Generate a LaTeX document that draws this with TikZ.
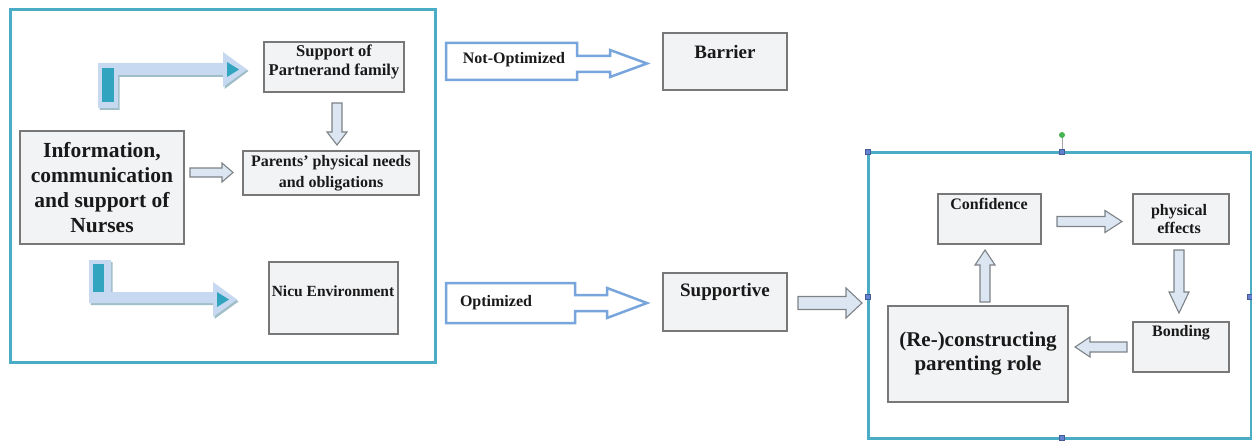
\documentclass[tikz,border=0pt]{standalone}
\usepackage{fontspec}
\setmainfont{Liberation Serif}
\definecolor{frameteal}{RGB}{75,172,198}
\definecolor{boxfill}{RGB}{242,243,245}
\definecolor{boxgray}{RGB}{120,120,120}
\definecolor{txtcol}{RGB}{25,25,25}
\definecolor{arrfill}{RGB}{220,230,242}
\definecolor{arrgray}{RGB}{125,130,135}
\definecolor{outblue}{RGB}{120,165,220}
\definecolor{bentfill}{RGB}{198,217,240}
\definecolor{bentshadow}{RGB}{160,190,200}
\definecolor{bentdark}{RGB}{49,165,192}
\definecolor{handleblue}{RGB}{100,130,210}
\definecolor{handlegreen}{RGB}{70,180,80}
\newcommand\fatarr[7]{% x, y, angle, length, shaft half, head half, head length
  \draw[fatarrow, shift={(#1,#2)}, rotate=#3] (0,-#5) -- ({#4-#7},-#5) -- ({#4-#7},-#6) -- (#4,0) -- ({#4-#7},#6) -- ({#4-#7},#5) -- (0,#5) -- cycle;}
\begin{document}
\begin{tikzpicture}[x=1pt,y=-1pt,
  box/.style={draw=boxgray, line width=1.3pt, fill=boxfill, inner sep=0pt},
  txt/.style={text=txtcol, align=center, inner sep=0pt},
  bframe/.style={draw=frameteal, line width=3pt},
  fatarrow/.style={draw=arrgray, fill=arrfill, line width=1.1pt, line join=miter},
  outl/.style={draw=outblue, fill=white, line width=2.5pt, line join=miter},
  handle/.style={draw=handleblue!70!black, fill=handleblue, minimum size=5pt, inner sep=0pt, line width=0.6pt},
]
\useasboundingbox (0,0) rectangle (1252,441);
% frames
\draw[bframe] (10,10) rectangle (435,362);
\draw[bframe] (868,152) rectangle (1251,438);
% boxes
\node[box, minimum width=140pt, minimum height=50pt] (support) at (334,67) {};
\node[box, minimum width=176pt, minimum height=44pt, txt, font={\fontsize{16}{21}\selectfont\bfseries}] (parents) at (331,173) {Parents’ physical needs\\and obligations};
\node[box, minimum width=164pt, minimum height=113pt, txt, font={\fontsize{21.5}{25}\selectfont\bfseries}] (info) at (102,187.5) {Information,\\communication\\and support of\\Nurses};
\node[box, minimum width=129pt, minimum height=72pt] (nicu) at (333.5,298) {};
\node[box, minimum width=124pt, minimum height=57pt] (barrier) at (725,61.5) {};
\node[box, minimum width=124pt, minimum height=58pt] (supportive) at (725,302) {};
\node[box, minimum width=103pt, minimum height=50pt] (confidence) at (989.5,219) {};
\node[box, minimum width=96pt, minimum height=50pt] (physical) at (1181,219) {};
\node[box, minimum width=96pt, minimum height=50pt] (bonding) at (1181,347) {};
\node[box, minimum width=180pt, minimum height=96pt, txt, font={\fontsize{21}{24}\selectfont\bfseries}] (recon) at (978,354) {(Re-)constructing\\parenting role};
% box texts (top aligned ones)
\node[txt, font={\fontsize{16.5}{18.5}\selectfont\bfseries}] (supporttxt) at (334,62) {Support of\\Partnerand family};
\node[txt, font={\fontsize{15.5}{18}\selectfont\bfseries}] (nicutxt) at (333,291) {Nicu Environment};
\node[txt, font={\fontsize{19}{22}\selectfont\bfseries}] (barriertxt) at (725,52) {Barrier};
\node[txt, font={\fontsize{19}{22}\selectfont\bfseries}] (supportivetxt) at (725,292) {Supportive};
\node[txt, font={\fontsize{16}{18}\selectfont\bfseries}] (conftxt) at (989,204) {Confidence};
\node[txt, font={\fontsize{16}{18}\selectfont\bfseries}] (phystxt) at (1179,219) {physical\\effects};
\node[txt, font={\fontsize{16}{18}\selectfont\bfseries}] (bondtxt) at (1181,333) {Bonding};
% outline arrows
\draw[outl] (446,43) -- (577,43) -- (577,56) -- (610,56) -- (610,50) -- (647,63.5) -- (610,77) -- (610,72) -- (577,72) -- (577,80) -- (446,80) -- cycle;
\node[txt, font={\fontsize{16}{18}\selectfont\bfseries}] (notopt) at (514,60) {Not-Optimized};
\draw[outl] (446,283) -- (575,283) -- (575,295) -- (607,295) -- (607,288) -- (647,303) -- (607,318) -- (607,311) -- (575,311) -- (575,323) -- (446,323) -- cycle;
\node[txt, font={\fontsize{16}{18}\selectfont\bfseries}] (opt) at (496,303) {Optimized};
% bent arrows
\fill[bentshadow] (99.5,65) -- (224.5,65) -- (224.5,54) -- (248.5,71) -- (224.5,89) -- (224.5,77) -- (119.5,77) -- (119.5,110) -- (99.5,110) -- cycle;
\fill[bentfill] (98,63) -- (223,63) -- (223,52) -- (247,69.5) -- (223,87) -- (223,75) -- (118,75) -- (118,108) -- (98,108) -- cycle;
\fill[bentdark] (102,68) rectangle (114,102);
\fill[bentdark] (227,62) -- (239,69.5) -- (227,77) -- cycle;
\fill[bentshadow] (90.5,262) -- (112.5,262) -- (112.5,294) -- (214.5,294) -- (214.5,284) -- (238.5,301.5) -- (214.5,319) -- (214.5,305) -- (90.5,305) -- cycle;
\fill[bentfill] (89,260) -- (111,260) -- (111,292) -- (213,292) -- (213,282) -- (237,299.5) -- (213,317) -- (213,303) -- (89,303) -- cycle;
\fill[bentdark] (93,264) rectangle (104,292);
\fill[bentdark] (217,292) -- (229,299.5) -- (217,307) -- cycle;
% filled block arrows
\fatarr{337}{103}{-90}{42}{5}{10}{13}
\fatarr{190}{172.5}{0}{43}{4.5}{9.5}{11}
\fatarr{798}{303}{0}{64}{6.5}{15}{16}
\fatarr{1057}{221.5}{0}{65}{5}{11}{17}
\fatarr{1179}{250}{-90}{63}{5}{10}{21}
\fatarr{1127}{347}{180}{52}{5}{10}{15}
\fatarr{985}{302}{90}{52}{5}{10}{15}
% selection handles
\coordinate (rot) at (1062,135);
\node[handle] (h1) at (868,152) {};
\node[handle] (h2) at (1062,152) {};
\node[handle] (h3) at (868,297) {};
\node[handle] (h4) at (1062,438) {};
\node[handle] (h5) at (1250,297) {};
\draw[gray!70, line width=1pt] (rot) -- (h2.north);
\fill[handlegreen] (rot) circle (3pt);
\end{tikzpicture}
\end{document}
